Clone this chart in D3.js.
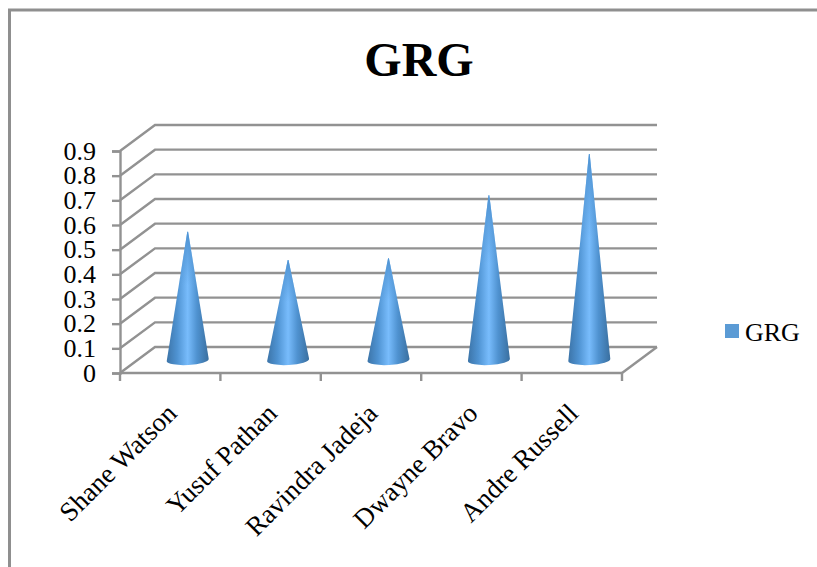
<!DOCTYPE html>
<html>
<head>
<meta charset="UTF-8">
<title>GRG</title>
<script src="https://d3js.org/d3.v7.min.js"></script>
<style>
    body { margin: 0; background: #fff; }
    svg { display: block; font-family: "Liberation Serif", serif; }
    .grid { fill: none; stroke: #929292; stroke-width: 2.4; }
    .axis path, .axis line { stroke: #929292; stroke-width: 2.4; }
    .axis text { font-family: "Liberation Serif", serif; font-size: 27px; fill: #000; }
    .axis.yaxis text { font-size: 26px; }
</style>
</head>
<body>
<svg width="817" height="567"></svg>
<script>
const categories = ['Shane Watson', 'Yusuf Pathan', 'Ravindra Jadeja', 'Dwayne Bravo', 'Andre Russell'];
const values = [0.52, 0.405, 0.413, 0.668, 0.835];
const yTicks = [0, 0.1, 0.2, 0.3, 0.4, 0.5, 0.6, 0.7, 0.8, 0.9];
const seriesName = 'GRG';

const svg = d3.select('svg');

// outer chart border, only top and left show in the picture
svg.append('path')
    .attr('d', 'M9.5,567V10H817')
    .attr('fill', 'none')
    .attr('stroke', '#8f8f8f')
    .attr('stroke-width', 3);

const x = d3.scaleBand().domain(categories).range([120, 622]);
const y = d3.scaleLinear().domain([0, 0.9]).range([373, 151]);

// depth of the 3d box
const depthX = 35, depthY = -26;

const defs = svg.append('defs');
const grad = defs.append('linearGradient').attr('id', 'cone');
[[0, '#3c74a8'], [0.25, '#4f93d2'], [0.5, '#78bcfc'], [0.72, '#4f92d0'], [1, '#3a6f9f']].forEach(s => {
    grad.append('stop').attr('offset', s[0]).attr('stop-color', s[1]);
});
// tip of the cone loses the highlight
const tipGrad = defs.append('linearGradient').attr('id', 'coneTip')
    .attr('x1', 0).attr('x2', 0).attr('y1', 0).attr('y2', 1);
tipGrad.append('stop').attr('offset', 0).attr('stop-color', '#4f93d2').attr('stop-opacity', 1);
tipGrad.append('stop').attr('offset', 0.4).attr('stop-color', '#4f93d2').attr('stop-opacity', 0);

// back wall lines and side wall diagonals
const grid = svg.append('g').attr('class', 'grid');
yTicks.forEach(t => {
    grid.append('path').attr('d', d3.line()([
        [x.range()[0], y(t)],
        [x.range()[0] + depthX, y(t) + depthY],
        [x.range()[1] + depthX, y(t) + depthY]
    ]));
});
// floor front edge to back right corner
grid.append('path').attr('d', d3.line()([
    [x.range()[1], y(0)],
    [x.range()[1] + depthX, y(0) + depthY]
]));

// axes
const yAxis = d3.axisLeft(y).tickValues(yTicks).tickSizeOuter(0).tickSize(8).tickPadding(16)
    .tickFormat(d => d === 0 ? '0' : d3.format('.1f')(d));
svg.append('g').attr('class', 'axis yaxis').attr('transform', 'translate(120,0)').call(yAxis);

const xEdges = categories.map(c => x(c)).concat([x.range()[1]]);
const xAxisG = svg.append('g').attr('class', 'axis');
xAxisG.append('line')
    .attr('x1', x.range()[0]).attr('x2', x.range()[1])
    .attr('y1', y(0)).attr('y2', y(0));
xAxisG.selectAll('.tk').data(xEdges).enter().append('line')
    .attr('x1', d => d).attr('x2', d => d)
    .attr('y1', y(0)).attr('y2', y(0) + 8);

xAxisG.selectAll('text').data(categories).enter().append('text')
    .attr('text-anchor', 'end')
    .attr('transform', d => `translate(${x(d) + x.bandwidth() / 2 + 8},${y(0) + 42}) rotate(-45)`)
    .text(d => d);

// cones sit half way into the box, base tilts up a little to the right
const baseRx = 21, baseRy = 5, baseTilt = 1.2;
const offX = depthX / 2, offY = depthY / 2;
const conePath = (c, i) => {
    const cx = x(c) + x.bandwidth() / 2 + offX;
    const by = y(0) + offY;
    const ty = y(values[i]) + offY;
    return `M${cx - baseRx},${by + baseTilt}L${cx - 0.4},${ty}L${cx + 0.4},${ty}L${cx + baseRx},${by - baseTilt}` +
        `A${baseRx},${baseRy} -3 0 1 ${cx - baseRx},${by + baseTilt}Z`;
};
const cones = svg.append('g');
cones.selectAll('.body').data(categories).enter().append('path')
    .attr('class', 'body').attr('fill', 'url(#cone)').attr('d', conePath);
cones.selectAll('.tip').data(categories).enter().append('path')
    .attr('class', 'tip').attr('fill', 'url(#coneTip)').attr('d', conePath);

// title
svg.append('text')
    .attr('x', 419).attr('y', 76)
    .attr('text-anchor', 'middle')
    .style('font-size', '48px')
    .style('font-weight', 'bold')
    .text(seriesName);

// legend
svg.append('rect')
    .attr('x', 725).attr('y', 324).attr('width', 14).attr('height', 14)
    .attr('fill', '#5b9bd5');
svg.append('text')
    .attr('x', 745).attr('y', 341)
    .style('font-size', '26px')
    .text(seriesName);
</script>
</body>
</html>
